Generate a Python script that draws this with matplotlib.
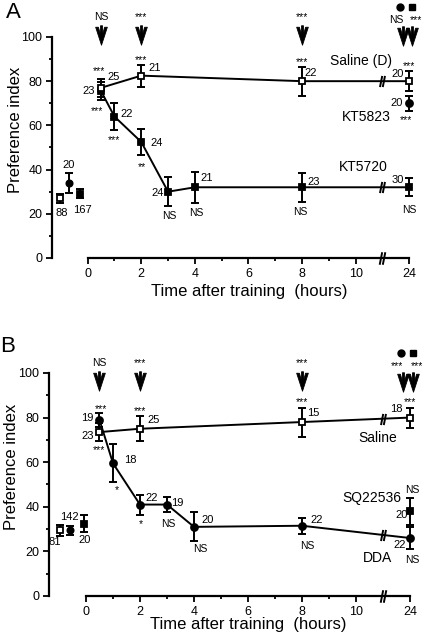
import numpy as np
import matplotlib
matplotlib.use('Agg')
import matplotlib.pyplot as plt
from matplotlib.path import Path

plt.rcParams['font.family'] = ['Liberation Sans', 'DejaVu Sans']

# ---------------- data, panel A ----------------
sal_t = [0.5, 2, 8, 24]
drug_t = [0.5, 1, 2, 3, 4, 8, 24]

a_sal = [77, 82.5, 80, 80]
a_sal_err = [4, 5, 6.5, 4.5]
a_sal_n = ['25', '21', '22', '20']
a_sal_sig = ['***', '***', '***', '***']

a_kt20 = [75.5, 64, 52.5, 30, 32, 32, 32]
a_kt20_err = [4, 6, 6, 6.5, 7, 6.5, 4]
a_kt20_n = ['23', '22', '24', '24', '21', '23', '30']
a_kt20_sig = ['***', '***', '**', 'NS', 'NS', 'NS', 'NS']

a_kt23 = [70]
a_kt23_err = [3.5]
a_kt23_n = ['20']
a_kt23_sig = ['***']

a_pre = [27, 34, 29]
a_pre_err = [2, 4.5, 2]
a_pre_n = ['88', '20', '167']

a_arrow_t = [0.5, 2, 8]
a_arrow_sig = ['NS', '***', '***']
a_arrow24_sig = ['NS', '***']

# ---------------- data, panel B ----------------
b_sal = [73.5, 75, 78, 80]
b_sal_err = [4, 5.5, 6.5, 4.5]
b_sal_n = ['23', '25', '15', '18']
b_sal_sig = ['***', '***', '***', '***']

b_dda = [79, 59.5, 41, 41, 31, 31.5, 26]
b_dda_err = [3, 8.5, 4.5, 3.5, 6.5, 3.5, 5]
b_dda_n = ['19', '18', '22', '19', '20', '22', '22']
b_dda_sig = ['***', '*', '*', 'NS', 'NS', 'NS', 'NS']

b_sq = [38]
b_sq_err = [6]
b_sq_n = ['20']
b_sq_sig = ['NS']

b_pre = [29.5, 29.5, 32.5]
b_pre_err = [2.5, 2, 4]
b_pre_n = ['81', '142', '20']

b_arrow_t = [0.5, 2, 8]
b_arrow_sig = ['NS', '***', '***']
b_arrow24_sig = ['***', '***']

BRK = 11.0  # axis break between 10 h and 24 h

# fletched down arrow used for the injection time points
arrow_mk = Path([(-0.6, 0.85), (0, -1), (0.6, 0.85), (0.32, 0.85), (0.1, 0.1),
                 (0.1, 1), (-0.1, 1), (-0.1, 0.1), (-0.32, 0.85), (-0.6, 0.85)],
                closed=True)
brk_mk = Path([(-0.45, -1), (-0.05, 1), (0.05, -1), (0.45, 1)],
              [Path.MOVETO, Path.LINETO, Path.MOVETO, Path.LINETO])


def tpos(t):
    # hours -> axis position (24 h drawn after the break)
    t = np.asarray(t, dtype=float)
    return np.where(t > 10, 12.0, t)


def series(ax, x, y, e, mk, ms, mfc, line=True):
    ax.errorbar(x, y, yerr=e, fmt='none', ecolor='k', elinewidth=1.4,
                capsize=2.6, capthick=1.4, zorder=3, clip_on=False)
    if line:
        ax.plot(x, y, '-', color='k', lw=1.4, zorder=2)
    ax.plot(x, y, ls='none', marker=mk, ms=ms, mfc=mfc, mec='k', mew=1.3,
            zorder=4, clip_on=False)


def tags(ax, x, y, labels, offs, fs=8):
    for xx, yy, s, (dx, dy) in zip(x, y, labels, offs):
        ax.annotate(s, (xx, yy), xytext=(dx, dy), textcoords='offset pixels',
                    ha='center', va='center', fontsize=fs, annotation_clip=False)


def brk_on_line(ax, x, y):
    yb = np.interp(BRK, x, y)
    ax.plot([BRK], [yb], marker=brk_mk, ms=8, mfc='none', mec='k', mew=1.4,
            zorder=5, clip_on=False)


def setup(ax, left, xlab_y):
    ax.set_xlim(left, 12.4)
    ax.set_ylim(0, 116)
    ax.spines['top'].set_visible(False)
    ax.spines['right'].set_visible(False)
    ax.spines['left'].set_bounds(0, 100)
    ax.spines['bottom'].set_bounds(0, 12)
    ax.spines['left'].set_linewidth(1.6)
    ax.spines['bottom'].set_linewidth(1.6)
    ax.set_xticks(range(0, 13, 2))
    ax.set_xticklabels(['0', '2', '4', '6', '8', '10', '24'])
    ax.set_xticks([1, 3, 5, 7, 9], minor=True)
    ax.set_yticks(range(0, 101, 20))
    ax.set_yticks(range(10, 100, 20), minor=True)
    ax.tick_params(which='both', direction='out', width=1.3, labelsize=9)
    ax.tick_params(which='major', length=4, pad=3)
    ax.tick_params(which='minor', length=2.5)
    ax.plot([BRK], [0], marker=brk_mk, ms=9, mfc='none', mec='k', mew=1.4,
            zorder=5, clip_on=False)
    ax.text(0.535, xlab_y, 'Time after training  (hours)', transform=ax.transAxes,
            ha='center', va='center', fontsize=12)
    ax.text(-0.1, 0.5, 'Preference index', transform=ax.transAxes, rotation=90,
            ha='center', va='center', fontsize=12)


def arrows(ax, t, sig, sig24, y_arrow, y_txt, y_dot):
    x = tpos(t)
    ax.plot(x, [y_arrow] * len(x), ls='none', marker=arrow_mk, ms=14,
            mfc='k', mec='k', mew=0.6, clip_on=False)
    for xx, s in zip(x, sig):
        ax.text(xx, y_txt, s, ha='center', va='center', fontsize=7.5)
    x24 = [11.75, 12.1]
    ax.plot(x24, [y_arrow - 0.5] * 2, ls='none', marker=arrow_mk, ms=14,
            mfc='k', mec='k', mew=0.6, clip_on=False)
    ax.text(11.5, y_txt - 1.5, sig24[0], ha='center', va='center', fontsize=7.5)
    ax.text(12.25, y_txt - 1.5, sig24[1], ha='center', va='center', fontsize=7.5)
    ax.plot([11.67], [y_dot], 'o', color='k', ms=5, clip_on=False)
    ax.plot([12.1], [y_dot], 's', color='k', ms=4.5, clip_on=False)


fig = plt.figure(figsize=(4.26, 6.34), dpi=100)

# ---------------- panel A ----------------
ax = fig.add_axes([52 / 426, 376 / 634, 368 / 426, 256.4 / 634])
setup(ax, -1.33, -0.13)

xs = tpos(sal_t)
xd = tpos(drug_t)
series(ax, xd, a_kt20, a_kt20_err, 's', 4.3, 'k')
series(ax, xs, a_sal, a_sal_err, 's', 4.5, 'w')
series(ax, tpos([24]), a_kt23, a_kt23_err, 'o', 5, 'k', line=False)
brk_on_line(ax, xs, a_sal)
brk_on_line(ax, xd, a_kt20)

pre_x = [-1.04, -0.7, -0.3]
ax.errorbar(pre_x, a_pre, yerr=a_pre_err, fmt='none', ecolor='k', elinewidth=1.4,
            capsize=2.6, capthick=1.4, clip_on=False)
for xx, yy, mk, fc in zip(pre_x, a_pre, ['s', 'o', 's'], ['w', 'k', 'k']):
    ax.plot([xx], [yy], marker=mk, ms=4.5, mfc=fc, mec='k', mew=1.3, clip_on=False)
tags(ax, pre_x, a_pre, a_pre_n, [(2, -15), (0, 18), (3, -16)])

tags(ax, xs, a_sal, a_sal_n, [(13, 11), (13, 8), (9, 8), (-12, 7)])
tags(ax, xs, a_sal, a_sal_sig, [(-2, 17), (0, 16), (0, 19), (0, 15)], fs=7.5)
tags(ax, xd, a_kt20, a_kt20_n, [(-12, 0), (12, 3), (15, -1), (-10, -1), (12, 9), (12, 5), (-12, 7)])
tags(ax, xd, a_kt20, a_kt20_sig, [(-4, -20), (0, -24), (1, -25), (1, -24), (1, -26), (-2, -25), (0, -23)],
     fs=7.5)
tags(ax, tpos([24]), a_kt23, a_kt23_n, [(-13, 0)])
tags(ax, tpos([24]), a_kt23, a_kt23_sig, [(-3, -17)], fs=7.5)

ax.text(10.2, 89, 'Saline (D)', ha='center', va='center', fontsize=10)
ax.text(10.4, 64, 'KT5823', ha='center', va='center', fontsize=10)
ax.text(10.3, 41, 'KT5720', ha='center', va='center', fontsize=10)

arrows(ax, a_arrow_t, a_arrow_sig, a_arrow24_sig, 101, 109, 113.4)

fig.text(13 / 426, 1 - 12 / 634, 'A', ha='center', va='center', fontsize=16)

# ---------------- panel B ----------------
ax = fig.add_axes([49 / 426, 38 / 634, 371.8 / 426, 258.7 / 634])
setup(ax, -1.37, -0.112)

series(ax, xd, b_dda, b_dda_err, 'o', 5, 'k')
series(ax, xs, b_sal, b_sal_err, 's', 4.5, 'w')
series(ax, tpos([24]), b_sq, b_sq_err, 's', 4.3, 'k', line=False)
brk_on_line(ax, xs, b_sal)
brk_on_line(ax, xd, b_dda)

pre_x = [-0.96, -0.6, -0.07]
ax.errorbar(pre_x, b_pre, yerr=b_pre_err, fmt='none', ecolor='k', elinewidth=1.4,
            capsize=2.6, capthick=1.4, clip_on=False)
for xx, yy, mk, fc in zip(pre_x, b_pre, ['s', 'o', 's'], ['w', 'k', 'k']):
    ax.plot([xx], [yy], marker=mk, ms=4.5, mfc=fc, mec='k', mew=1.3, clip_on=False)
tags(ax, pre_x, b_pre, b_pre_n, [(-5, -12), (0, 13), (1, -16)])

tags(ax, xs, b_sal, b_sal_n, [(-12, -4), (14, 9), (11, 9), (-14, 9)])
tags(ax, xs, b_sal, b_sal_sig, [(1, 23), (0, 18), (0, 20), (0, 16)], fs=7.5)
tags(ax, xd, b_dda, b_dda_n, [(-12, 2), (17, 3), (12, 7), (10, 2), (14, 7), (15, 6), (-10, -7)])
tags(ax, xd, b_dda, b_dda_sig, [(-1, -30), (4, -27), (1, -20), (1, -19), (6, -22), (5, -20), (2, -22)],
     fs=7.5)
tags(ax, tpos([24]), b_sq, b_sq_n, [(-8, -4)])
tags(ax, tpos([24]), b_sq, b_sq_sig, [(2, 21)], fs=7.5)

ax.text(10.8, 71, 'Saline', ha='center', va='center', fontsize=10)
ax.text(10.6, 44, 'SQ22536', ha='center', va='center', fontsize=10)
ax.text(10.8, 17, 'DDA', ha='center', va='center', fontsize=10)

arrows(ax, b_arrow_t, b_arrow_sig, b_arrow24_sig, 96.4, 104.5, 109)

fig.text(8 / 426, 1 - 347 / 634, 'B', ha='center', va='center', fontsize=16)

fig.savefig('out.png', dpi=100)
